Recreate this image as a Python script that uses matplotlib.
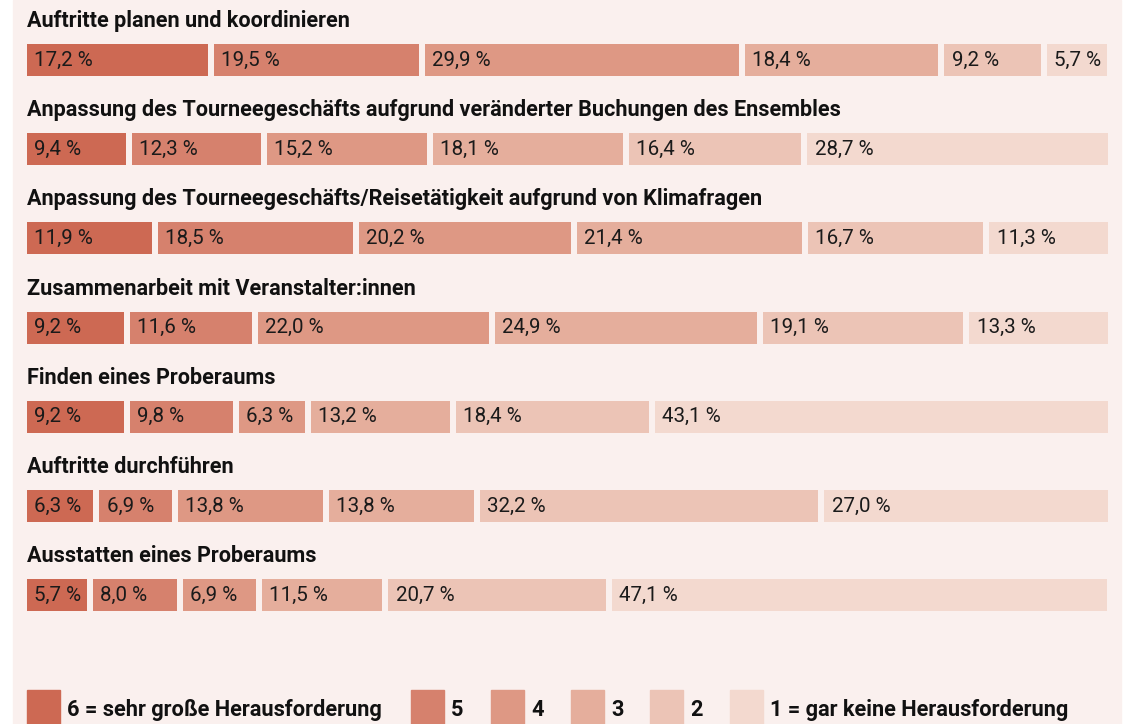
import numpy as np
import matplotlib.pyplot as plt
from matplotlib.patches import Rectangle

plt.rcParams['font.family'] = ['Roboto', 'DejaVu Sans']

# survey items, top to bottom
items = [
    "Auftritte planen und koordinieren",
    "Anpassung des Tourneegeschäfts aufgrund veränderter Buchungen des Ensembles",
    "Anpassung des Tourneegeschäfts/Reisetätigkeit aufgrund von Klimafragen",
    "Zusammenarbeit mit Veranstalter:innen",
    "Finden eines Proberaums",
    "Auftritte durchführen",
    "Ausstatten eines Proberaums",
]

# shares in percent, from 6 (very big challenge) down to 1 (no challenge)
share_6 = [17.2, 9.4, 11.9, 9.2, 9.2, 6.3, 5.7]
share_5 = [19.5, 12.3, 18.5, 11.6, 9.8, 6.9, 8.0]
share_4 = [29.9, 15.2, 20.2, 22.0, 6.3, 13.8, 6.9]
share_3 = [18.4, 18.1, 21.4, 24.9, 13.2, 13.8, 11.5]
share_2 = [9.2, 16.4, 16.7, 19.1, 18.4, 32.2, 20.7]
share_1 = [5.7, 28.7, 11.3, 13.3, 43.1, 27.0, 47.1]

legend_labels = ["6 = sehr große Herausforderung", "5", "4", "3", "2",
                 "1 = gar keine Herausforderung"]
colors = ["#CD6953", "#D6816D", "#DE9884", "#E5AE9C", "#ECC4B6", "#F3D9CF"]
panel_bg = "#FAF0EE"

W, H = 1136, 724
fig = plt.figure(figsize=(W / 100, H / 100), dpi=100)
fig.patch.set_facecolor("white")
fig.patches.append(Rectangle((13 / W, 0), (1121 - 13) / W, 1,
                             transform=fig.transFigure, color=panel_bg,
                             zorder=-10))

ax = fig.add_axes([27 / W, 0, 1081 / W, 1])
ax.set_facecolor("none")
ax.set_zorder(5)

# 6 px gaps between segments, 100 % spans the remaining width
gap = 6 / (1081 - 5 * 6) * 100
row_step = 89.2
ax.set_xlim(0, 100 + 5 * gap)
ax.set_ylim((H - 60) / row_step, -60 / row_step)
ax.axis("off")

series = np.array([share_6, share_5, share_4, share_3, share_2, share_1])
bar_h = 32 / row_step
for i, item in enumerate(items):
    ax.text(0, i - 39 / row_step, item, fontsize=15.6, fontweight="bold",
            color="#111111", va="center", ha="left")
    left = 0.0
    for k in range(6):
        v = series[k, i]
        ax.barh(i, v, left=left, height=bar_h, color=colors[k], linewidth=0)
        ax.text(left + 0.7, i, f"{v:.1f} %".replace(".", ","), fontsize=14.8,
                color="#1a1a1a", va="center", ha="left")
        left += v + gap

# legend along the bottom edge
leg_x = [27, 411, 491, 571, 650, 730]
for k, lab in enumerate(legend_labels):
    fig.patches.append(Rectangle((leg_x[k] / W, 0), 33 / W, 34 / H,
                                 transform=fig.transFigure, color=colors[k],
                                 zorder=1))
    fig.text((leg_x[k] + 40) / W, 1 - 710 / H, lab, fontsize=15.7,
             fontweight="bold", color="#111111", va="center", ha="left")

fig.savefig("out.png", dpi=100, facecolor=fig.get_facecolor())
